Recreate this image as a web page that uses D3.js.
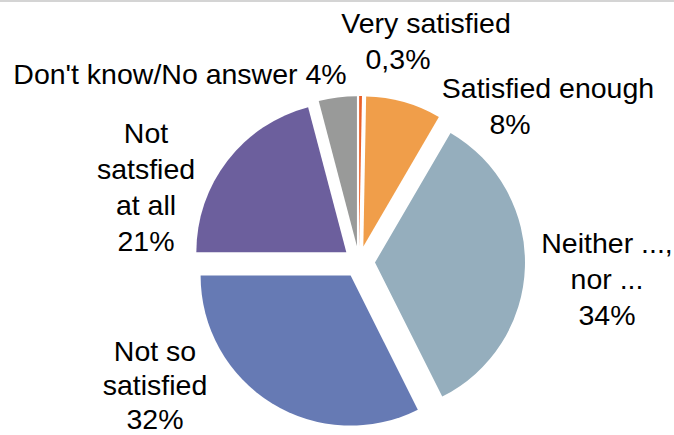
<!DOCTYPE html>
<html>
<head>
<meta charset="utf-8">
<script src="https://cdn.jsdelivr.net/npm/d3@7"></script>
<style>
  body { margin: 0; background: #fff; }
  svg { display: block; font-family: "Liberation Sans", Arial, sans-serif; }
</style>
</head>
<body>
<div id="chart"></div>
<script>
// satisfaction shares, clockwise from the top
const categories = ["Very satisfied", "Satisfied enough", "Neither ..., nor ...", "Not so satisfied", "Not satsfied at all", "Don't know/No answer"];
const values = [0.3, 8.1, 34.2, 32.4, 20.9, 4.1];
const pctLabels = ["0,3%", "8%", "34%", "32%", "21%", "4%"];
const colors = ["#e9602b", "#f09e4a", "#95aebd", "#667ab4", "#6c5f9d", "#999a99"];

// how each label is broken into lines (as in the original)
const labelLines = [
  ["Very satisfied", pctLabels[0]],
  ["Satisfied enough", pctLabels[1]],
  ["Neither ...,", "nor ...", pctLabels[2]],
  ["Not so", "satisfied", pctLabels[3]],
  ["Not", "satsfied", "at all", pctLabels[4]],
  ["Don't know/No answer " + pctLabels[5]]
];
// label anchor (center x, first baseline y) and per-line x shifts
const labelPos = [
  { x: 426, y: 33, dx: [0, -28] },
  { x: 548, y: 98, dx: [0, -38] },
  { x: 607, y: 253, dx: [0, 0, 0] },
  { x: 155, y: 361, dx: [0, 0, 0] },
  { x: 146, y: 143, dx: [0, 0, 0, 0] },
  { x: 180, y: 84, dx: [0] }
];
const lineGap = [36, 36, 36, 34, 36, 36];

const width = 674, height = 435;
const cx = 359, cy = 262, radius = 150, explode = 16;

const svg = d3.select("#chart").append("svg")
  .attr("width", width)
  .attr("height", height);

// thin border line at the top
svg.append("rect")
  .attr("x", 0).attr("y", 0)
  .attr("width", width).attr("height", 2)
  .attr("fill", "#d4d4d4");

const pie = d3.pie().sort(null).value(d => d);
const arc = d3.arc().innerRadius(0).outerRadius(radius);
const arcs = pie(values);

const g = svg.append("g").attr("transform", "translate(" + cx + "," + cy + ")");

g.selectAll("path")
  .data(arcs)
  .enter()
  .append("path")
    .attr("d", arc)
    .attr("fill", (d, i) => colors[i])
    .attr("transform", function(d) {
      const a = (d.startAngle + d.endAngle) / 2;
      return "translate(" + (Math.sin(a) * explode) + "," + (-Math.cos(a) * explode) + ")";
    });

// data labels
const labels = svg.selectAll("text.lbl")
  .data(categories)
  .enter()
  .append("text")
    .attr("class", "lbl")
    .attr("text-anchor", "middle")
    .attr("font-size", 28.5)
    .attr("fill", "#000");

labels.each(function(d, i) {
  const p = labelPos[i];
  d3.select(this).selectAll("tspan")
    .data(labelLines[i])
    .enter()
    .append("tspan")
      .attr("x", (t, j) => p.x + p.dx[j])
      .attr("y", (t, j) => p.y + j * lineGap[i])
      .text(t => t);
});
</script>
</body>
</html>
